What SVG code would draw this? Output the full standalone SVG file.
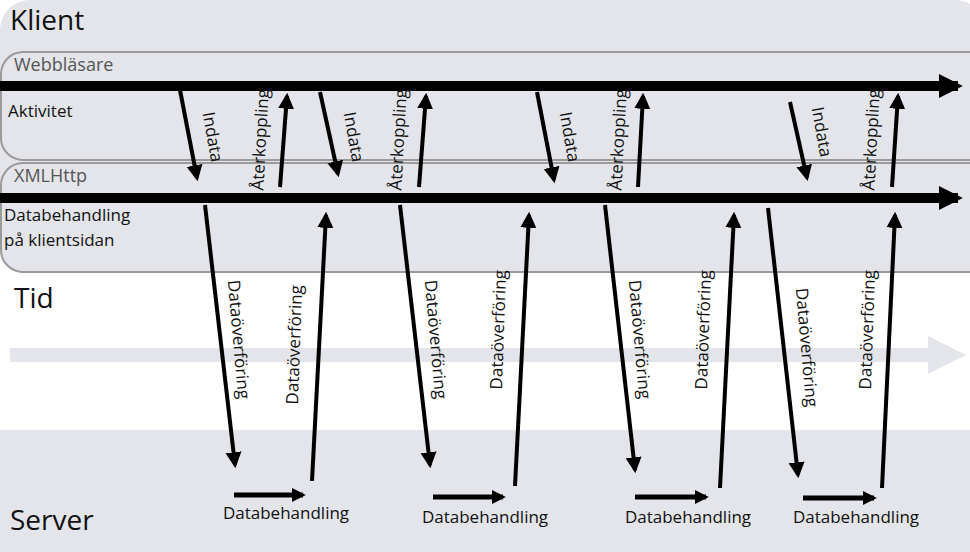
<svg xmlns="http://www.w3.org/2000/svg" width="970" height="552" viewBox="0 0 970 552">
<style>
text{font-family:"Open Sans","Liberation Sans",sans-serif;fill:#111}
.c{stroke:#000;stroke-width:4;fill:none}
.bar{stroke-width:10}
.db{stroke-width:5}
.lab{font-size:17px}
.big{font-size:28px}
.sub{font-size:18px;fill:#555}
</style>
<defs>
<marker id="ah" viewBox="0 0 10 10" refX="8" refY="5" markerWidth="4" markerHeight="4.5" orient="auto" markerUnits="strokeWidth"><path d="M0,0L10,5L0,10z" fill="#000"/></marker>
<marker id="ahb" viewBox="0 0 10 10" refX="8" refY="5" markerWidth="2.4" markerHeight="2.4" orient="auto" markerUnits="strokeWidth"><path d="M0,0L10,5L0,10z" fill="#000"/></marker>
<marker id="ahd" viewBox="0 0 10 10" refX="8" refY="5" markerWidth="2.8" markerHeight="3" orient="auto" markerUnits="strokeWidth"><path d="M0,0L10,5L0,10z" fill="#000"/></marker>
</defs>
<rect width="970" height="552" fill="#fff"/>
<g id="klient">
<rect x="0" y="0" width="985" height="272" rx="30" fill="#e3e5ea"/>
<text x="10" y="30" class="big">Klient</text>
</g>
<g id="webblasare">
<rect x="1" y="52" width="990" height="108" rx="22" fill="#e3e5ea" stroke="#9a9a9a" stroke-width="2"/>
<text x="14" y="71" class="sub">Webbläsare</text>
<text x="8" y="117" class="lab">Aktivitet</text>
</g>
<g id="xmlhttp">
<rect x="1" y="163" width="990" height="109" rx="22" fill="#e3e5ea" stroke="#9a9a9a" stroke-width="2"/>
<text x="14" y="182" class="sub">XMLHttp</text>
<text x="4" y="221" class="lab">Databehandling</text>
<text x="4" y="246" class="lab">på klientsidan</text>
</g>
<g id="tid">
<text x="14" y="308" class="big">Tid</text>
<path d="M10,355H930" stroke="#e3e5ea" stroke-width="14"/>
<path d="M928,336L966,355L928,374z" fill="#e3e5ea"/>
</g>
<g id="server">
<rect x="0" y="430" width="970" height="122" fill="#e3e5ea"/>
<text x="10" y="530" class="big">Server</text>
</g>
<g id="connectors">
<path class="c bar" d="M0,86H958" marker-end="url(#ahb)"/>
<path class="c bar" d="M0,198H958" marker-end="url(#ahb)"/>
<path class="c" d="M180,90L197,178" marker-end="url(#ah)"/>
<path class="c" d="M320,92L338,174" marker-end="url(#ah)"/>
<path class="c" d="M537,92L554,180" marker-end="url(#ah)"/>
<path class="c" d="M790,102L807,178" marker-end="url(#ah)"/>
<path class="c" d="M280,187L287,96" marker-end="url(#ah)"/>
<path class="c" d="M419,187L426,96" marker-end="url(#ah)"/>
<path class="c" d="M638,187L643,96" marker-end="url(#ah)"/>
<path class="c" d="M892,187L898,96" marker-end="url(#ah)"/>
<path class="c" d="M205,205L235,465" marker-end="url(#ah)"/>
<path class="c" d="M400,205L430,465" marker-end="url(#ah)"/>
<path class="c" d="M605,205L635,470" marker-end="url(#ah)"/>
<path class="c" d="M768,208L798,475" marker-end="url(#ah)"/>
<path class="c" d="M312,481L326,215" marker-end="url(#ah)"/>
<path class="c" d="M515,486L529,215" marker-end="url(#ah)"/>
<path class="c" d="M720,488L734,215" marker-end="url(#ah)"/>
<path class="c" d="M882,488L895,215" marker-end="url(#ah)"/>
<path class="c db" d="M234,495H303" marker-end="url(#ahd)"/>
<path class="c db" d="M433,497H503" marker-end="url(#ahd)"/>
<path class="c db" d="M635,497H706" marker-end="url(#ahd)"/>
<path class="c db" d="M803,498H874" marker-end="url(#ahd)"/>
</g>
<g id="labels" class="lab" text-anchor="middle">
<text transform="translate(207,138) rotate(80)">Indata</text>
<text transform="translate(348,138) rotate(80)">Indata</text>
<text transform="translate(564,138) rotate(80)">Indata</text>
<text transform="translate(816,133) rotate(80)">Indata</text>
<text transform="translate(266,140) rotate(-87)">Återkoppling</text>
<text transform="translate(404,140) rotate(-87)">Återkoppling</text>
<text transform="translate(624,140) rotate(-87)">Återkoppling</text>
<text transform="translate(877,140) rotate(-87)">Återkoppling</text>
<text transform="translate(233,340) rotate(85)">Dataöverföring</text>
<text transform="translate(430,340) rotate(85)">Dataöverföring</text>
<text transform="translate(634,340) rotate(85)">Dataöverföring</text>
<text transform="translate(801,348) rotate(85)">Dataöverföring</text>
<text transform="translate(300,345) rotate(-88)">Dataöverföring</text>
<text transform="translate(504,330) rotate(-88)">Dataöverföring</text>
<text transform="translate(709,330) rotate(-88)">Dataöverföring</text>
<text transform="translate(873,330) rotate(-88)">Dataöverföring</text>
<text x="286" y="519">Databehandling</text>
<text x="485" y="523">Databehandling</text>
<text x="688" y="523">Databehandling</text>
<text x="856" y="523">Databehandling</text>
</g>
</svg>
